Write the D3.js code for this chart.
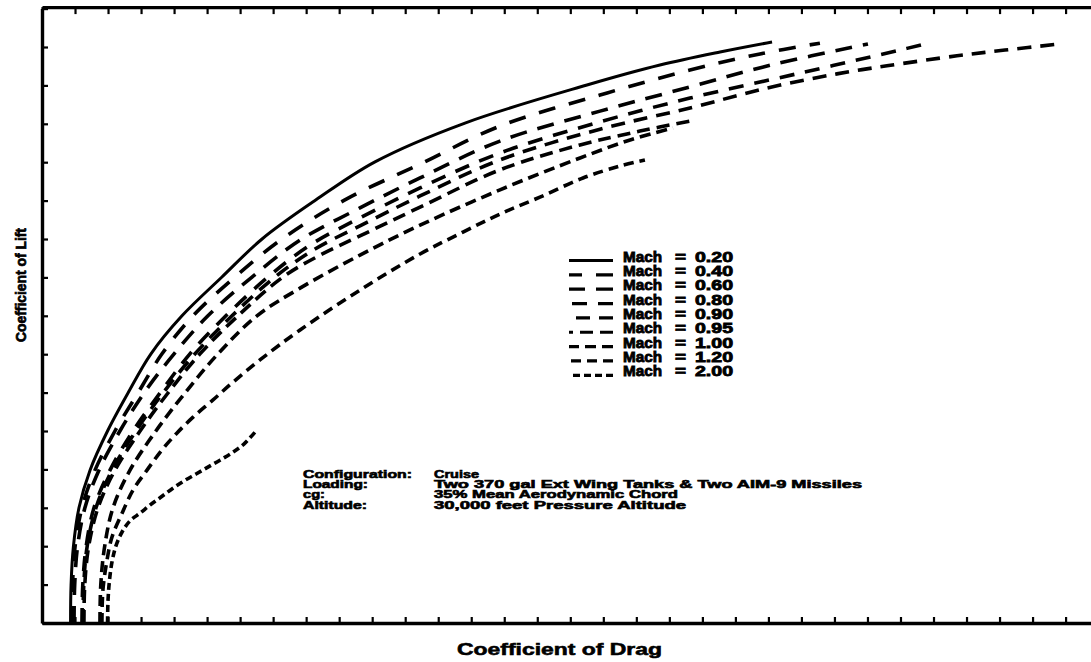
<!DOCTYPE html>
<html>
<head>
<meta charset="utf-8">
<script src="https://cdn.jsdelivr.net/npm/d3@7"></script>
<style>
  body { margin: 0; background: #fff; }
  svg { display: block; }
  text { font-family: "Liberation Sans", Arial, sans-serif; font-weight: bold; fill: #000; }
</style>
</head>
<body>
<svg id="chart" width="1091" height="662"></svg>
<script>
// Drag polars, cruise configuration, 30,000 ft
const machLabels = ["0.20", "0.40", "0.60", "0.80", "0.90", "0.95", "1.00", "1.20", "2.00"];

const cdMach020 = [0.0173,0.0176,0.0190,0.0224,0.0291,0.0397,0.0521,0.0660,0.0848,0.1090,0.1333,0.1660,0.2017,0.2562,0.3301,0.3743,0.4107,0.4422];
const clMach020 = [0,0.099,0.198,0.300,0.398,0.500,0.599,0.701,0.800,0.901,1.000,1.102,1.201,1.302,1.401,1.453,1.487,1.513];

const cdMach040 = [0.0182,0.0185,0.0200,0.0242,0.0321,0.0442,0.0581,0.0727,0.0915,0.1169,0.1454,0.1835,0.2290,0.2774,0.3380,0.3925,0.4349,0.4712];
const clMach040 = [0,0.099,0.198,0.300,0.398,0.500,0.599,0.701,0.800,0.901,1.000,1.102,1.195,1.294,1.375,1.440,1.482,1.510];

const cdMach060 = [0.0194,0.0198,0.0215,0.0260,0.0345,0.0472,0.0618,0.0800,0.1005,0.1272,0.1563,0.1926,0.2290,0.2774,0.3380,0.3925,0.4416,0.5003];
const clMach060 = [0,0.099,0.198,0.300,0.398,0.500,0.599,0.701,0.800,0.901,0.997,1.081,1.159,1.255,1.333,1.396,1.453,1.508];

const cdMach080 = [0.0242,0.0247,0.0267,0.0315,0.0412,0.0551,0.0715,0.0896,0.1114,0.1369,0.1623,0.1926,0.2290,0.2774,0.3380,0.3925,0.4591,0.5197,0.5366];
const clMach080 = [0,0.099,0.198,0.300,0.398,0.500,0.599,0.701,0.800,0.901,0.984,1.055,1.133,1.224,1.305,1.367,1.432,1.492,1.510];

const cdMach090 = [0.0248,0.0253,0.0273,0.0327,0.0424,0.0569,0.0733,0.0927,0.1151,0.1411,0.1654,0.1926,0.2290,0.2774,0.3380,0.3925,0.4391,0.4815,0.5118,0.5542,0.5833,0.6166];
const clMach090 = [0,0.099,0.198,0.300,0.398,0.500,0.599,0.701,0.800,0.901,0.974,1.034,1.112,1.206,1.286,1.341,1.393,1.430,1.451,1.477,1.492,1.508];

const cdMach095 = [0.0254,0.0259,0.0282,0.0339,0.0442,0.0594,0.0763,0.0957,0.1187,0.1460,0.1684,0.1926,0.2290,0.2774,0.3259,0.3622,0.3925];
const clMach095 = [0,0.099,0.198,0.300,0.398,0.500,0.599,0.701,0.800,0.901,0.958,1.008,1.083,1.180,1.245,1.281,1.307];

const cdMach100 = [0.0351,0.0356,0.0379,0.0430,0.0533,0.0690,0.0866,0.1066,0.1302,0.1563,0.1926,0.2290,0.2774,0.3259,0.3562,0.3822];
const clMach100 = [0,0.099,0.198,0.300,0.398,0.500,0.599,0.701,0.800,0.872,0.958,1.036,1.128,1.211,1.258,1.289];

const cdMach120 = [0.0363,0.0369,0.0394,0.0424,0.0485,0.0551,0.0636,0.0727,0.0818,0.0915,0.1036,0.1151,0.1320,0.1563,0.1926,0.2290,0.2550,0.2774,0.3016,0.3277,0.3501,0.3652];
const clMach120 = [0,0.086,0.164,0.224,0.286,0.346,0.398,0.451,0.495,0.536,0.581,0.625,0.685,0.763,0.867,0.961,1.018,1.065,1.109,1.159,1.190,1.206];

const cdMach200 = [0.0397,0.0400,0.0409,0.0424,0.0448,0.0485,0.0533,0.0594,0.0654,0.0721,0.0787,0.0860,0.0933,0.1005,0.1078,0.1157,0.1223,0.1290];
const clMach200 = [0,0.060,0.112,0.159,0.201,0.237,0.266,0.286,0.307,0.328,0.349,0.370,0.388,0.406,0.424,0.445,0.466,0.497];

// Unlabelled tick marks: CD every 0.02, CL every 0.1
const xTickValues = d3.range(0, 33).map(i => +(i * 0.02).toFixed(2));
const yTickValues = d3.range(0, 17).map(i => +(i * 0.1).toFixed(1));

const noteLabels = ["Configuration:", "Loading:", "cg:", "Altitude:"];
const noteValues = ["Cruise", "Two 370 gal Ext Wing Tanks & Two AIM-9 Missiles", "35% Mean Aerodynamic Chord", "30,000 feet Pressure Altitude"];

const cdSeries = [cdMach020, cdMach040, cdMach060, cdMach080, cdMach090, cdMach095, cdMach100, cdMach120, cdMach200];
const clSeries = [clMach020, clMach040, clMach060, clMach080, clMach090, clMach095, clMach100, clMach120, clMach200];

// line styles, one per Mach number
const dashStyles = [null, "17,14", "17,11", "15,11", "14,9", "13,7", "11,6", "10,6", "7,4"];

const svg = d3.select("#chart");

const x = d3.scaleLinear().domain([0, 0.64]).range([42, 1098.6]);
const y = d3.scaleLinear().domain([0, 1.6]).range([623, 8.6]);

function styleAxis(g) {
  g.select(".domain").attr("stroke", "#000").attr("stroke-width", 3.4);
  g.selectAll(".tick line").attr("stroke", "#000").attr("stroke-width", 2.2);
}

svg.append("g").attr("transform", `translate(0,${y(0)})`)
  .call(d3.axisBottom(x).tickValues(xTickValues).tickSize(-6).tickSizeOuter(0).tickFormat(""))
  .call(styleAxis);
svg.append("g").attr("transform", `translate(0,${y(1.6) - 1.5})`)
  .call(d3.axisTop(x).tickValues(xTickValues).tickSize(-7).tickSizeOuter(0).tickFormat(""))
  .call(styleAxis);
svg.append("g").attr("transform", `translate(${x(0)},0)`)
  .call(d3.axisLeft(y).tickValues(yTickValues).tickSize(-6).tickSizeOuter(0).tickFormat(""))
  .call(styleAxis);
svg.append("g").attr("transform", `translate(${x(0.64)},0)`)
  .call(d3.axisRight(y).tickValues(yTickValues).tickSize(-6).tickSizeOuter(0).tickFormat(""))
  .call(styleAxis);

// polar curves
const line = d3.line()
  .x(d => x(d.cd))
  .y(d => y(d.cl))
  .curve(d3.curveCatmullRom.alpha(0.5));

machLabels.forEach((m, i) => {
  const pts = cdSeries[i].map((cd, j) => ({ cd, cl: clSeries[i][j] }));
  svg.append("path")
    .datum(pts)
    .attr("d", line)
    .attr("fill", "none")
    .attr("stroke", "#000")
    .attr("stroke-width", i === 0 ? 3.0 : 3.6)
    .attr("stroke-dasharray", dashStyles[i]);
});

// legend
const legend = svg.append("g");
machLabels.forEach((m, i) => {
  const by = 261.5 + i * 14.35;
  legend.append("path")
    .attr("d", `M613,${by - 1}L569,${by - 1}`)
    .attr("stroke", "#000")
    .attr("stroke-width", 3.2)
    .attr("fill", "none")
    .attr("stroke-dasharray", dashStyles[i]);
  const t = legend.append("text").attr("y", by).attr("font-size", 14)
    .attr("stroke", "#000").attr("stroke-width", 0.8);
  t.append("tspan").attr("x", 623).attr("textLength", 39).attr("lengthAdjust", "spacingAndGlyphs").text("Mach");
  t.append("tspan").attr("x", 675).attr("textLength", 11).attr("lengthAdjust", "spacingAndGlyphs").text("=");
  t.append("tspan").attr("x", 695).attr("textLength", 38).attr("lengthAdjust", "spacingAndGlyphs").text(m);
});

// configuration notes, tightly stacked
const labelWidths = [109, 65, 22, 64];
const valueWidths = [45, 428, 244, 252];
noteLabels.forEach((lab, i) => {
  const by = 478 + i * 10.2;
  svg.append("text").attr("x", 303).attr("y", by).attr("font-size", 10.5)
    .attr("stroke", "#000").attr("stroke-width", 0.6)
    .attr("textLength", labelWidths[i]).attr("lengthAdjust", "spacingAndGlyphs")
    .text(lab);
  svg.append("text").attr("x", 434).attr("y", by).attr("font-size", 10.5)
    .attr("stroke", "#000").attr("stroke-width", 0.6)
    .attr("textLength", valueWidths[i]).attr("lengthAdjust", "spacingAndGlyphs")
    .text(noteValues[i]);
});

// axis titles
svg.append("text")
  .attr("x", 457).attr("y", 655).attr("font-size", 17)
  .attr("stroke", "#000").attr("stroke-width", 0.6)
  .attr("textLength", 205).attr("lengthAdjust", "spacingAndGlyphs")
  .text("Coefficient of Drag");

svg.append("text")
  .attr("transform", "translate(26,285) rotate(-90)")
  .attr("text-anchor", "middle").attr("font-size", 15.5)
  .attr("stroke", "#000").attr("stroke-width", 0.7)
  .attr("textLength", 114).attr("lengthAdjust", "spacingAndGlyphs")
  .text("Coefficient of Lift");
</script>
</body>
</html>
